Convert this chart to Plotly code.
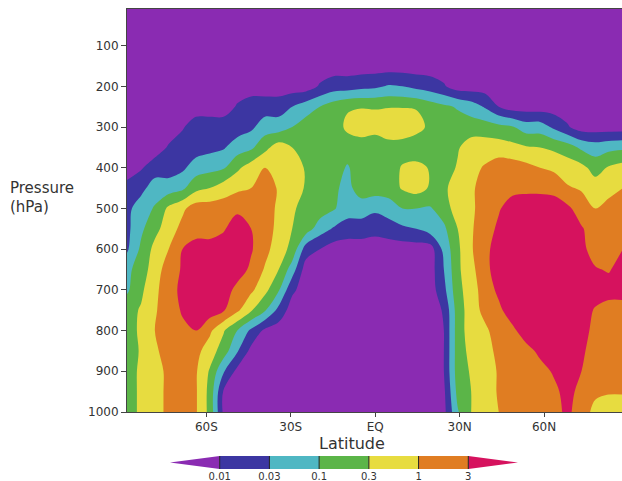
import plotly.graph_objects as go

# ---------------- data ----------------
# latitude sample positions (deg, negative = south)
LATS = [-88.4, -83.2, -78.3, -73.4, -68.5, -63.7, -58.8, -53.9, -49.0, -44.1,
        -39.2, -34.3, -29.5, -24.6, -19.7, -14.8, -9.9, -5.0, -0.1, 4.8,
        9.7, 14.6, 19.5, 24.4, 29.3, 34.1, 39.0, 43.9, 48.8, 53.7,
        58.6, 63.5, 68.4, 73.3, 78.2, 83.0, 88.0]
# pressure levels (hPa), top to bottom
PRESSURES = [10, 50, 100, 150, 200, 250, 300, 350, 400, 450, 500,
             550, 600, 650, 700, 750, 800, 850, 900, 950, 1000]

# contour levels shown on the colour bar
LEVELS = ["0.01", "0.03", "0.1", "0.3", "1", "3"]
X_TICKS = [-60, -30, 0, 30, 60]
X_TICKTEXT = ["60S", "30S", "EQ", "30N", "60N"]
Y_TICKS = [100, 200, 300, 400, 500, 600, 700, 800, 900, 1000]

# field value expressed as position on the (log) level scale:
# 0 -> below 0.01, 1 -> 0.01-0.03, 2 -> 0.03-0.1, 3 -> 0.1-0.3,
# 4 -> 0.3-1, 5 -> 1-3, 6 -> above 3   (k.5 = on the k/k+1 contour)
R10 = [0, 0, 0, 0, 0, 0, 0, 0, 0, 0, 0, 0, 0, 0, 0, 0, 0, 0, 0, 0, 0, 0, 0, 0, 0, 0, 0, 0, 0, 0, 0, 0, 0, 0, 0, 0, 0]
R50 = [0, 0, 0, 0, 0, 0, 0, 0, 0, 0, 0, 0, 0, 0, 0, 0, 0, 0, 0, 0, 0, 0, 0, 0, 0, 0, 0, 0, 0, 0, 0, 0, 0, 0, 0, 0, 0]
R100 = [0, 0, 0, 0, 0, 0, 0, 0, 0, 0, 0, 0, 0, 0, 0, 0, 0, 0, 0, 0, 0, 0, 0, 0, 0, 0, 0, 0, 0, 0, 0, 0, 0, 0, 0, 0, 0]
R150 = [0, 0, 0, 0, 0, 0, 0, 0, 0, 0, 0, 0, 0, 0, 0, 0, 0, 0, 0, 0, 0, 0, 0, 0, 0, 0, 0, 0, 0, 0, 0, 0, 0, 0, 0, 0, 0]
R200 = [0, 0, 0, 0, 0, 0, 0, 0, 0, 0, 0, 0, 0, 0, 0.6, 1, 1, 1.2, 1.3, 1.6, 1.5, 1.2, 1, 0.6, 0, 0, 0, 0, 0, 0, 0, 0, 0, 0, 0, 0, 0]
R250 = [0, 0, 0, 0, 0, 0, 0, 0, 0.6, 1, 1, 1, 1.5, 2, 2.5, 3, 3.4, 3.45, 3.45, 3.45, 3.45, 3.4, 3, 2.7, 2.4, 2, 1.4, 0.5, 0, 0, 0, 0, 0, 0, 0, 0, 0]
R300 = [0, 0, 0, 0, 0.4, 1, 1, 1, 1, 1.3, 2, 2, 2.5, 3, 3, 3, 3.7, 4, 3.8, 4.3, 4.2, 4, 3.2, 3, 3, 3, 3, 2.8, 2.6, 2, 2, 1.3, 0.6, 0, 0, 0, 0]
R350 = [0, 0, 0, 0.6, 1, 1, 1.2, 1.4, 2, 2.3, 3.2, 4, 3.5, 3, 3, 3, 3, 3, 3, 3, 3, 2.6, 3, 3, 3.4, 4, 4, 4, 3.8, 3.6, 3.5, 3.3, 3, 2.3, 2, 2.2, 2.3]
R400 = [0, 0.4, 1, 1, 1.3, 2, 2.2, 2.4, 3.3, 4, 4.5, 4.1, 4, 3.4, 3, 3, 2.4, 3, 3, 3, 3.6, 3.9, 3.4, 3, 3.6, 4.2, 4.6, 5, 5, 4.8, 4.5, 4.3, 4, 3.8, 3.1, 3.6, 3.9]
R450 = [0.8, 1.2, 2, 2, 2.3, 3.2, 3.5, 4, 4.3, 4.5, 5, 4.4, 4, 3.4, 3, 2.7, 2.2, 3, 3, 3, 3.6, 3.9, 3.4, 3.3, 4, 4.3, 5, 5, 5.2, 5.3, 5.3, 5.2, 4.6, 4.4, 4, 4.2, 4.5]
R500 = [1.2, 2, 2.6, 3.7, 4.3, 5, 5, 5, 5.3, 5.3, 5, 4.3, 3.7, 3, 3, 2.6, 2, 2, 1.7, 2, 2.5, 2.5, 2.4, 3, 4, 4.3, 5, 5.4, 6, 6, 6, 6, 5.7, 5, 4.5, 4.8, 5]
R550 = [1.2, 2.3, 3.2, 4, 4.8, 5, 5, 5.4, 6, 5.5, 5, 4.2, 3.5, 3, 2, 1.4, 1, 1, 0.8, 1, 1.3, 1.5, 2, 2.3, 3.5, 4.4, 5, 5.7, 6, 6, 6, 6, 6, 5.6, 5, 5, 5]
R600 = [1.3, 2.7, 3.8, 4.5, 5.5, 6, 6, 6, 6, 5.6, 4.8, 4, 3.2, 1, 0.5, 0, 0, 0, 0, 0, 0, 0, 0, 1.8, 3.3, 4.4, 5.2, 6, 6, 6, 6, 6, 6, 5.8, 5, 5, 5.5]
R650 = [2.2, 3, 4, 5, 5.6, 6, 6, 6, 6, 5.3, 4.4, 3.5, 2, 0, 0, 0, 0, 0, 0, 0, 0, 0, 0, 1.5, 3.3, 4.2, 5.2, 6, 6, 6, 6, 6, 6, 6, 5.6, 5.4, 6]
R700 = [2.3, 3.3, 4.3, 5, 5.8, 6, 6, 6, 5.2, 4.7, 3.8, 2.6, 0.7, 0, 0, 0, 0, 0, 0, 0, 0, 0, 0, 1.2, 3.2, 4, 5, 5.7, 6, 6, 6, 6, 6, 6, 6, 6, 6]
R750 = [3.1, 3.6, 4.4, 5, 5.6, 6, 6, 5.6, 4.7, 3.6, 2.6, 1.2, 0, 0, 0, 0, 0, 0, 0, 0, 0, 0, 0, 0.6, 3, 4, 4.8, 5.3, 6, 6, 6, 6, 6, 6, 5.4, 5, 5]
R800 = [3, 3.7, 4.5, 5, 5.3, 5.5, 4.7, 3.6, 2.5, 1.3, 0.3, 0, 0, 0, 0, 0, 0, 0, 0, 0, 0, 0, 0, 0.5, 3, 4, 4.3, 5, 5.3, 6, 6, 6, 6, 5.9, 5.2, 5, 5]
R850 = [3, 3.6, 4.3, 5, 5, 4.8, 4, 3, 1.6, 0.2, 0, 0, 0, 0, 0, 0, 0, 0, 0, 0, 0, 0, 0, 0.5, 3, 3.8, 4.2, 4.7, 5, 5.2, 5.7, 6, 6, 5.7, 5, 5, 5]
R900 = [3, 3.7, 4, 4.8, 5, 4.6, 3.4, 1.6, 0.2, 0, 0, 0, 0, 0, 0, 0, 0, 0, 0, 0, 0, 0, 0, 0.5, 3, 3.6, 4, 4.6, 5, 5, 5.2, 5.6, 6, 5.5, 5, 5, 5]
R950 = [3, 3.7, 4, 4.8, 5, 4.6, 3.2, 0.4, 0, 0, 0, 0, 0, 0, 0, 0, 0, 0, 0, 0, 0, 0, 0, 0.3, 2.8, 3.5, 4, 4.6, 5, 5, 5, 5.3, 5.8, 5.2, 4.7, 4.6, 4.6]
R1000 = [3, 3.7, 4, 4.8, 5, 4.6, 3.2, 0.3, 0, 0, 0, 0, 0, 0, 0, 0, 0, 0, 0, 0, 0, 0, 0, 0.2, 2.4, 3.5, 4, 4.5, 5, 5, 5, 5.2, 5.7, 5, 4.2, 3.9, 3.9]

FIELD = [R10, R50, R100, R150, R200, R250, R300, R350, R400, R450, R500,
         R550, R600, R650, R700, R750, R800, R850, R900, R950, R1000]

BAND_COLORS = ["#8a2bb2", "#3c36a2", "#4fb7c3", "#5bb548",
               "#e7dc40", "#e07d22", "#d6125e"]

FONT = "DejaVu Sans"
TXT = "#333333"

fig = go.Figure()

n = len(BAND_COLORS)
fig.add_trace(go.Contour(
    x=LATS, y=PRESSURES, z=FIELD,
    autocontour=False,
    contours=dict(start=0.5, end=n - 1.5, size=1, coloring="fill", showlines=False),
    colorscale=[[k / (n - 1), c] for k, c in enumerate(BAND_COLORS)],
    line=dict(width=0),
    showscale=False,
    hoverinfo="skip",
    xaxis="x", yaxis="y",
))

# ---- colour bar with pointed ends, drawn on its own small axes ----
for k, c in enumerate(BAND_COLORS):
    if k == 0:
        xs, ys = [k, k + 1, k + 1, k], [0.5, 1, 0, 0.5]
    elif k == n - 1:
        xs, ys = [k, k + 1, k, k], [0, 0.5, 1, 0]
    else:
        xs, ys = [k, k + 1, k + 1, k, k], [0, 0, 1, 1, 0]
    fig.add_trace(go.Scatter(x=xs, y=ys, fill="toself", fillcolor=c, mode="lines",
                             line=dict(width=0, color=c), hoverinfo="skip",
                             showlegend=False, xaxis="x2", yaxis="y2"))
div_x, div_y = [], []
for k in range(1, n):
    div_x += [k, k, None]
    div_y += [0, 1, None]
fig.add_trace(go.Scatter(x=div_x, y=div_y, mode="lines",
                         line=dict(color="#222222", width=1), hoverinfo="skip",
                         showlegend=False, xaxis="x2", yaxis="y2"))

H, W = 481, 622
ML, MT = 127, 9
plot_h = H - MT

def py(y_px):
    return (H - y_px) / plot_h

def px(x_px):
    return (x_px - ML) / (W - ML)

fig.update_layout(
    width=W, height=H,
    margin=dict(l=ML, r=0, t=MT, b=0, autoexpand=False),
    paper_bgcolor="white", plot_bgcolor="white",
    showlegend=False,
    font=dict(family=FONT, size=12, color=TXT),
    xaxis=dict(domain=[0, 1], range=[-88.2, 87.7], anchor="y",
               tickvals=X_TICKS, ticktext=X_TICKTEXT,
               ticks="outside", ticklen=4, tickcolor="#444", tickwidth=1,
               showline=True, linecolor="#444", linewidth=1, mirror=True,
               showgrid=False, zeroline=False, automargin=False,
               tickfont=dict(family=FONT, size=12, color=TXT)),
    yaxis=dict(domain=[py(412), 1], range=[1000, 10], anchor="x",
               tickvals=Y_TICKS,
               ticks="outside", ticklen=5, tickcolor="#444", tickwidth=1,
               showline=True, linecolor="#444", linewidth=1, mirror=False,
               showgrid=False, zeroline=False, automargin=False,
               tickfont=dict(family=FONT, size=12, color=TXT)),
    xaxis2=dict(domain=[px(170), px(518)],
                range=[0, n], anchor="y2",
                tickvals=list(range(1, n)), ticktext=LEVELS,
                ticks="", showline=False, showgrid=False, zeroline=False,
                automargin=False,
                tickfont=dict(family=FONT, size=10, color=TXT)),
    yaxis2=dict(domain=[py(469), py(456)], range=[0, 1], anchor="x2",
                visible=False, fixedrange=True),
    annotations=[
        dict(text="Pressure", x=px(8), y=py(188), xref="paper", yref="paper",
             xanchor="left", yanchor="middle", showarrow=False,
             font=dict(family=FONT, size=15, color=TXT)),
        dict(text="(hPa)", x=px(8), y=py(207), xref="paper", yref="paper",
             xanchor="left", yanchor="middle", showarrow=False,
             font=dict(family=FONT, size=15, color=TXT)),
        dict(text="Latitude", x=px(352), y=py(443), xref="paper", yref="paper",
             xanchor="center", yanchor="middle", showarrow=False,
             font=dict(family=FONT, size=16, color=TXT)),
    ],
)

fig.write_html("out.html",
               config={"displayModeBar": False, "staticPlot": True},
               post_script="document.body.style.margin='0';"
                           "document.body.style.overflow='hidden';")
